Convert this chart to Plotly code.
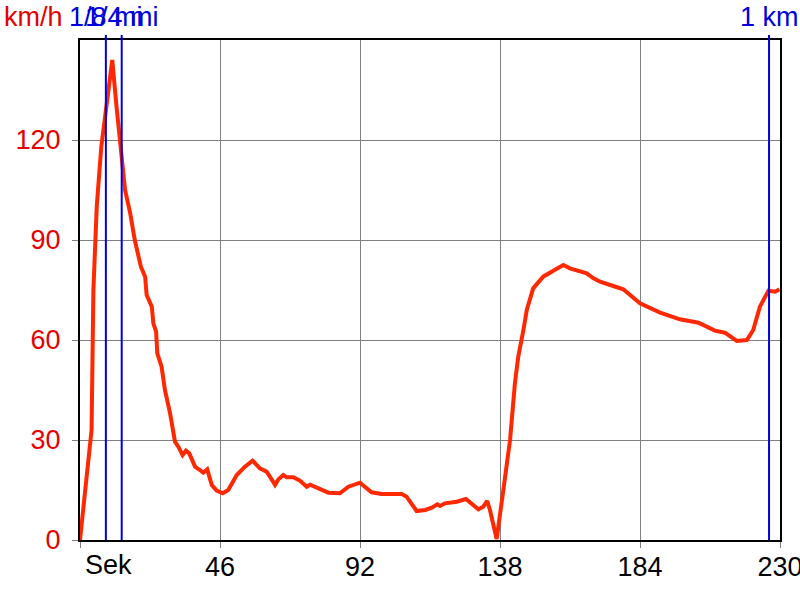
import plotly.graph_objects as go

# time in seconds
time_s = [0, 3.8, 4.4, 5.0, 5.5, 7.0, 9.0, 10.6, 12.0, 13.7, 14.8, 16.5, 18.0, 20.0,
          21.4, 21.9, 23.6, 24.1, 25.0, 25.4, 26.8, 27.9, 29.6, 31.2, 32.3, 33.7,
          34.8, 35.9, 37.8, 39.4, 40.5, 41.8, 43.3, 44.9, 46.9, 48.7, 51.5, 54.2,
          56.7, 59.1, 61.3, 62.4, 64.1, 65.2, 66.8, 67.9, 70.1, 72.3, 74.5, 75.6,
          77.8, 79.4, 81.6, 85.4, 88.2, 92.0, 93.6, 95.8, 99.1, 105.7, 107.3, 109.0,
          110.6, 113.4, 115.6, 117.4, 118.3, 119.9, 123.8, 126.8, 128.7, 130.9,
          132.5, 133.8, 134.7, 136.9, 139.1, 141.3, 142.9, 144.0, 145.7, 146.8,
          148.9, 152.2, 155.5, 158.8, 161.0, 164.3, 166.5, 168.7, 170.9, 175.2,
          178.5, 184.0, 187.3, 190.6, 197.1, 203.2, 208.6, 211.9, 215.8, 219.1,
          221.2, 223.4, 226.2, 228.4, 229.8]
# speed in km/h
speed_kmh = [0, 33, 75, 90, 100, 118, 133, 144, 130, 115, 105, 98, 90, 82,
             79, 73.5, 70, 65, 62.5, 56, 52, 45, 38, 29.5, 28, 25.5,
             26.8, 26, 22, 21, 20.2, 21.2, 16.5, 14.8, 14, 15, 19.5, 22,
             23.8, 21.5, 20.5, 19, 16.5, 18.2, 19.5, 18.8, 18.8, 17.8, 16, 16.6,
             15.8, 15.2, 14.2, 14, 16, 17.2, 16, 14.3, 13.8, 13.8, 13, 10.5,
             8.7, 9, 9.7, 10.7, 10.2, 11, 11.5, 12.3, 10.8, 9.2,
             10, 11.7, 9, 0.3, 15, 30, 47, 55, 63, 69,
             75.5, 79, 80.8, 82.5, 81.5, 80.5, 80, 78.5, 77.5, 76.2,
             75.2, 71, 69.5, 68.2, 66.2, 65.2, 62.8, 62.2, 59.7, 60,
             63, 70, 74.8, 74.5, 75.2]

marker_times = [8.5, 13.7, 226.4]
marker_labels = ["1/8 mi", "1/4 mi", "1 km"]

x_ticks = [0, 46, 92, 138, 184, 230]
x_ticktext = ["", "46", "92", "138", "184", "230"]
y_ticks = [0, 30, 60, 90, 120]

FONT = "Liberation Sans, Arial, sans-serif"
FS = 27
RED = "#e60000"
BLUE = "#0000dd"

fig = go.Figure()
fig.add_trace(go.Scatter(x=time_s, y=speed_kmh, mode="lines",
                         line=dict(color="#ff2800", width=4),
                         hoverinfo="skip", showlegend=False))

shapes = []
annotations = []
for t, lab in zip(marker_times, marker_labels):
    shapes.append(dict(type="line", xref="x", yref="paper", x0=t, x1=t, y0=0, y1=1.01,
                       line=dict(color=BLUE, width=2), layer="above"))
    annotations.append(dict(text=lab, xref="x", yref="paper", x=t, y=1, yanchor="top",
                            yshift=40, xanchor="center", showarrow=False,
                            font=dict(family=FONT, size=FS, color=BLUE)))

annotations.append(dict(text="km/h", xref="paper", yref="paper", x=0, y=1, xanchor="left",
                        xshift=-78, yanchor="top", yshift=40, showarrow=False,
                        font=dict(family=FONT, size=FS, color=RED)))
annotations.append(dict(text="Sek", xref="paper", yref="paper", x=0, y=0, xanchor="left",
                        xshift=3, yanchor="top", yshift=-8, showarrow=False,
                        font=dict(family=FONT, size=FS, color="black")))

fig.update_layout(
    width=800, height=600,
    margin=dict(l=80, r=20, t=40, b=60),
    paper_bgcolor="white", plot_bgcolor="white",
    font=dict(family=FONT, size=FS),
    shapes=shapes, annotations=annotations,
    xaxis=dict(range=[0, 230], tickvals=x_ticks, ticktext=x_ticktext,
               showgrid=True, gridcolor="#808080", gridwidth=1,
               showline=True, linecolor="black", linewidth=2, mirror=True,
               ticks="outside", ticklen=6, tickcolor="#808080", tickwidth=1,
               zeroline=False, tickfont=dict(family=FONT, size=FS, color="black"),
               ticklabeloverflow="allow", ticklabelstandoff=-4,
               automargin=False, fixedrange=True),
    yaxis=dict(range=[0, 150], tickvals=y_ticks,
               showgrid=True, gridcolor="#808080", gridwidth=1,
               showline=True, linecolor="black", linewidth=2, mirror=True,
               ticks="outside", ticklen=6, tickcolor="#808080", tickwidth=1,
               zeroline=False, tickfont=dict(family=FONT, size=FS, color=RED),
               ticklabelstandoff=6, automargin=False, fixedrange=True),
)

fig.write_html("out.html", config={"displayModeBar": False},
               post_script="document.body.style.margin='0px';document.body.style.overflow='hidden';")
